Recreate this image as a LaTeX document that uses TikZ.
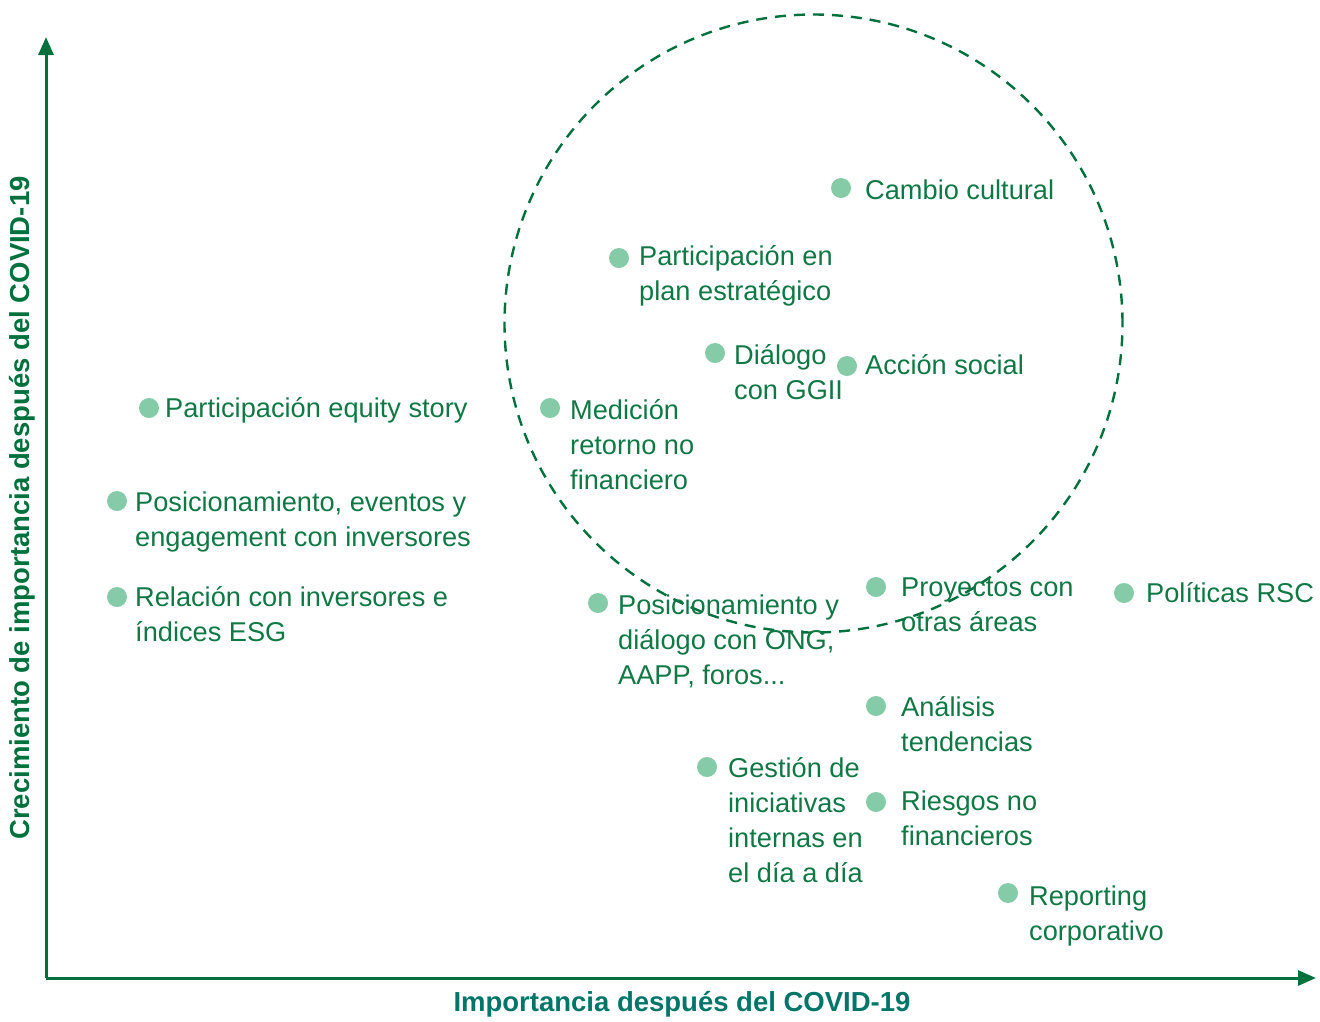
\documentclass[tikz,border=0pt]{standalone}
\usepackage{fontspec}
\setmainfont{Liberation Sans}
\usetikzlibrary{arrows.meta}
\definecolor{axisgreen}{RGB}{0,112,60}
\definecolor{labgreen}{RGB}{16,120,68}
\definecolor{dotgreen}{RGB}{134,203,168}
\definecolor{xteal}{RGB}{0,118,105}
\tikzset{
  dot/.style={circle,fill=dotgreen,inner sep=0pt,minimum size=20pt},
  lab/.style={anchor=north west,inner sep=0pt,align=left,text=labgreen,
    font=\fontsize{27.2}{35}\selectfont},
  axisline/.style={draw=axisgreen,line width=3pt,-{Triangle[length=18pt,width=15pt]}},
  axlabel/.style={font=\bfseries\fontsize{27.5}{30}\selectfont,inner sep=0pt},
  ring/.style={draw=axisgreen,line width=2.4pt,dash pattern=on 11pt off 8pt}
}
\newcommand{\lbl}[4]{%
  \node[dot] (d#1) at (#2) {};
  \node[lab] (t#1) at (#3) {\strut #4};
}
\begin{document}
\begin{tikzpicture}[x=1pt,y=-1pt]
\useasboundingbox (0,0) rectangle (1320,1021);
% circle
\node[ring,circle,minimum size=618pt,inner sep=0pt] (ring) at (813.5,323.5) {};
% axes
\coordinate (O) at (46,978);
\coordinate (ytop) at (46,37);
\coordinate (xend) at (1316,978);
\draw[axisline] (O) -- (ytop);
\draw[axisline] (O) -- (xend);
\node[axlabel,text=xteal] (xl) at (682,1004) {Importancia después del COVID-19};
\node[axlabel,text=axisgreen,rotate=90] (yl) at (22,508) {Crecimiento de importancia después del COVID-19};
% items
\lbl{1}{841,188}{865,174.5}{Cambio cultural}
\lbl{2}{619,258}{639,240.5}{Participación en\\plan estratégico}
\lbl{3}{715,353}{734,339.5}{Diálogo\\con GGII}
\lbl{4}{847,366}{865,349.5}{Acción social}
\lbl{5}{550,408}{570,394.5}{Medición\\retorno no\\financiero}
\lbl{6}{149,408}{165,392.5}{Participación equity story}
\lbl{7}{117,501}{135,486.5}{Posicionamiento, eventos y\\engagement con inversores}
\lbl{8}{117,597}{135,581.5}{Relación con inversores e\\índices ESG}
\lbl{9}{598,603}{618,589.5}{Posicionamiento y\\diálogo con ONG,\\AAPP, foros...}
\lbl{10}{876,587}{901,571.5}{Proyectos con\\otras áreas}
\lbl{11}{1124,593}{1146,577.5}{Políticas RSC}
\lbl{12}{876,706}{901,691.5}{Análisis\\tendencias}
\lbl{13}{707,767}{728,752.5}{Gestión de\\iniciativas\\internas en\\el día a día}
\lbl{14}{876,802}{901,785.5}{Riesgos no\\financieros}
\lbl{15}{1008,893}{1029,880.5}{Reporting\\corporativo}
\end{tikzpicture}
\end{document}
